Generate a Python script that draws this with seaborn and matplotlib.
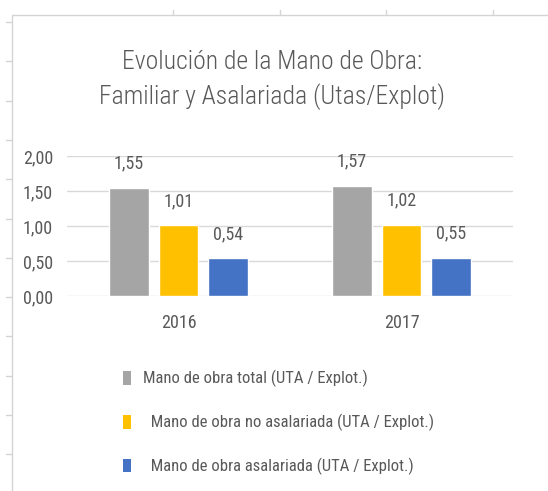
import numpy as np
import pandas as pd
import seaborn as sns
import matplotlib.pyplot as plt
from matplotlib.lines import Line2D
from matplotlib.patches import Patch

# data
years = ['2016', '2017']
series = ['Mano de obra total (UTA / Explot.)',
          '  Mano de obra no asalariada (UTA / Explot.)',
          '  Mano de obra asalariada (UTA / Explot.)']
total = [1.55, 1.57]
no_asalariada = [1.01, 1.02]
asalariada = [0.54, 0.55]
colors = ['#a5a5a5', '#ffc000', '#4472c4']

df = pd.DataFrame({
    'year': years * 3,
    'serie': [s for s in series for _ in years],
    'value': total + no_asalariada + asalariada,
})

sns.set_style('white')
plt.rcParams['font.family'] = ['Roboto Condensed', 'DejaVu Sans']
text_color = '#595959'

fig = plt.figure(figsize=(5.48, 4.91), dpi=100)
ax = fig.add_axes([67 / 548, 1 - 296 / 491, 446 / 548, 140 / 491])

sns.barplot(data=df, x='year', y='value', hue='serie', palette=colors, saturation=1,
            width=0.666, gap=0.21, ax=ax, legend=False)

for cont in ax.containers:
    ax.bar_label(cont, labels=[f'{v:.2f}'.replace('.', ',') for v in cont.datavalues],
                 padding=11, fontsize=13, color=text_color, clip_on=False)

ax.set_ylim(0, 2.0)
ax.set_xlim(-0.5, 1.5)
ax.set_yticks([0, 0.5, 1.0, 1.5, 2.0])
ax.set_yticklabels([f'{v:.2f}'.replace('.', ',') for v in [0, 0.5, 1.0, 1.5, 2.0]])
ax.tick_params(axis='y', length=0, pad=10, labelsize=13, labelcolor=text_color)
ax.tick_params(axis='x', length=0, pad=13, labelsize=13, labelcolor=text_color)
ax.set_xlabel('')
ax.set_ylabel('')
ax.yaxis.grid(True, color='#d9d9d9', linewidth=1)
ax.set_axisbelow(True)
sns.despine(ax=ax, left=True, bottom=True)

fig.text(272 / 548, 1 - 80 / 491,
         'Evolución de la Mano de Obra:\nFamiliar y Asalariada (Utas/Explot)',
         ha='center', va='center', fontsize=18.5, fontweight='light',
         color=text_color, linespacing=1.45)

handles = [Patch(facecolor=c, edgecolor='none') for c in colors]
fig.legend(handles, series, loc='upper left', bbox_to_anchor=(108 / 548, 1 - 355 / 491),
           frameon=False, fontsize=12, labelcolor=text_color, handlelength=0.5,
           handleheight=0.9, handletextpad=0.7, labelspacing=1.6)

# sheet frame around the chart
fig.add_artist(Line2D([12 / 548, 12 / 548], [0, 1 - 15 / 491], color='#d4d4d4', lw=1))
fig.add_artist(Line2D([12 / 548, 1], [1 - 15 / 491, 1 - 15 / 491], color='#d4d4d4', lw=1))
for y in np.arange(22, 491, 39.3):
    fig.add_artist(Line2D([6 / 548, 12 / 548], [1 - y / 491] * 2, color='#d4d4d4', lw=1))
for x in np.arange(173, 548, 106.7):
    fig.add_artist(Line2D([x / 548] * 2, [1 - 10 / 491, 1 - 15 / 491], color='#d4d4d4', lw=1))

fig.savefig('out.png', dpi=100, facecolor='white')
